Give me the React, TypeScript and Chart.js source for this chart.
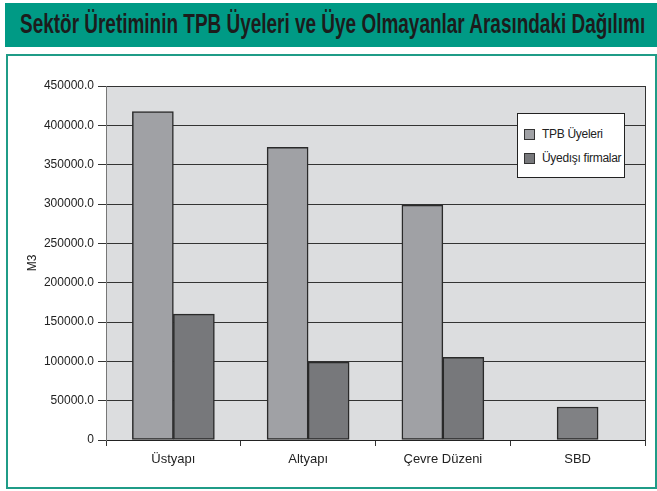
import React, { useEffect, useLayoutEffect, useRef } from 'react';
import { Chart, registerables } from 'chart.js';

Chart.register(...registerables);

const TITLE = 'Sektör Üretiminin TPB Üyeleri ve Üye Olmayanlar Arasındaki Dağılımı';
const categories = ['Üstyapı', 'Altyapı', 'Çevre Düzeni', 'SBD'];
const seriesNames = ['TPB Üyeleri', 'Üyedışı firmalar'];
const tpbValues: (number | null)[] = [417500, 372000, 298500, null];
const nonMemberValues: (number | null)[] = [160000, 99000, 105000, 42000];
const yMin = 0;
const yMax = 450000;
const yStep = 50000;
const yAxisTitle = 'M3';

const TPB_COLOR = '#a0a1a5';
const NON_COLOR = '#77787b';
const SBD_COLOR = '#808184';
const FONT = '"Liberation Sans", Arial, sans-serif';

const plotBg = {
  id: 'plotBg',
  beforeDraw(chart: any) {
    const { ctx, chartArea } = chart;
    if (!chartArea) return;
    ctx.save();
    ctx.fillStyle = '#dcdddf';
    ctx.fillRect(chartArea.left, chartArea.top, chartArea.right - chartArea.left, chartArea.bottom - chartArea.top);
    ctx.restore();
  },
};

export default function App() {
  const canvasRef = useRef<HTMLCanvasElement | null>(null);
  const titleRef = useRef<HTMLSpanElement | null>(null);

  useLayoutEffect(() => {
    const el = titleRef.current;
    if (el) {
      const w = el.offsetWidth;
      if (w > 0) el.style.transform = `scaleX(${625 / w})`;
    }
  }, []);

  useEffect(() => {
    if (!canvasRef.current) return;
    const chart = new Chart(canvasRef.current, {
      type: 'bar',
      data: {
        labels: categories,
        datasets: [
          {
            label: seriesNames[0],
            data: tpbValues,
            backgroundColor: TPB_COLOR,
            borderColor: '#2a2a2a',
            borderWidth: 1.5,
            borderSkipped: false,
          },
          {
            label: seriesNames[1],
            data: nonMemberValues,
            backgroundColor: categories.map((c) => (c === 'SBD' ? SBD_COLOR : NON_COLOR)),
            borderColor: '#2a2a2a',
            borderWidth: 1.5,
            borderSkipped: false,
          },
        ],
      },
      options: {
        responsive: false,
        animation: false,
        devicePixelRatio: 1,
        skipNull: true,
        barThickness: 41,
        layout: { padding: { top: 86, right: 12, left: 0, bottom: 0 } },
        plugins: {
          legend: { display: false },
          tooltip: { enabled: false },
        },
        scales: {
          x: {
            grid: { offset: true, drawOnChartArea: false, drawTicks: true, tickLength: 6, color: '#333' },
            border: { color: '#222', width: 1 },
            ticks: { color: '#222', font: { family: FONT, size: 13 }, padding: 6, maxRotation: 0 },
            afterFit(s: any) {
              s.height = 51;
            },
          },
          y: {
            min: yMin,
            max: yMax,
            ticks: {
              stepSize: yStep,
              color: '#222',
              font: { family: FONT, size: 12 },
              padding: 4,
              callback: (v: any) => (Number(v) === 0 ? '0' : Number(v).toFixed(1)),
            },
            grid: { color: '#333', lineWidth: 1, tickLength: 8 },
            border: { color: '#777', width: 1 },
            title: {
              display: true,
              text: yAxisTitle,
              color: '#222',
              font: { family: FONT, size: 12 },
              padding: { top: 25, bottom: 0 },
            },
            afterFit(s: any) {
              s.width = 106;
            },
          },
          y2: {
            position: 'right',
            display: true,
            min: 0,
            max: 1,
            grid: { drawOnChartArea: false, drawTicks: false },
            ticks: { display: false },
            border: { color: '#333', width: 1 },
            afterFit(s: any) {
              s.width = 0;
            },
          },
        },
      } as any,
      plugins: [plotBg],
    });
    return () => chart.destroy();
  }, []);

  return (
    <div style={{ position: 'fixed', left: 0, top: 0, width: 657, height: 491, background: '#fff', overflow: 'hidden' }}>
      <div
        style={{
          position: 'absolute',
          left: 5,
          top: 3,
          width: 652,
          height: 44,
          background: '#009a85',
          overflow: 'hidden',
        }}
      >
        <span
          ref={titleRef}
          style={{
            position: 'absolute',
            left: 15,
            top: 6,
            display: 'inline-block',
            whiteSpace: 'nowrap',
            transformOrigin: 'left top',
            fontFamily: FONT,
            fontWeight: 'bold',
            fontSize: 27,
            lineHeight: '30px',
            color: '#1c1c1c',
          }}
        >
          {TITLE}
        </span>
      </div>
      <div
        style={{
          position: 'absolute',
          left: 6,
          top: 54,
          width: 647,
          height: 431,
          border: '2px solid #1f9c87',
        }}
      />
      <canvas
        ref={canvasRef}
        width={657}
        height={491}
        style={{ position: 'absolute', left: 0, top: 0, width: 657, height: 491 }}
      />
      <div
        style={{
          position: 'absolute',
          left: 517,
          top: 113,
          width: 106,
          height: 63,
          background: '#fff',
          border: '1px solid #222',
          fontFamily: FONT,
          fontSize: 12,
          letterSpacing: '-0.3px',
          color: '#222',
        }}
      >
        {seriesNames.map((name, i) => (
          <div key={name} style={{ position: 'absolute', left: 6, top: 14 + i * 24, height: 12, display: 'flex', alignItems: 'center', whiteSpace: 'nowrap' }}>
            <span
              style={{
                display: 'inline-block',
                width: 9,
                height: 9,
                border: '1px solid #333',
                background: i === 0 ? TPB_COLOR : NON_COLOR,
                marginRight: 7,
              }}
            />
            <span>{name}</span>
          </div>
        ))}
      </div>
    </div>
  );
}
